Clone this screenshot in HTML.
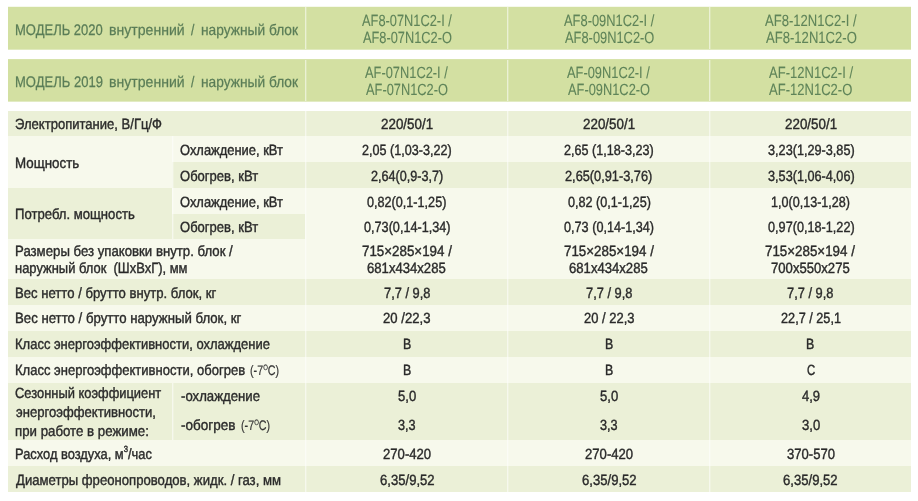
<!DOCTYPE html>
<html lang="ru"><head><meta charset="utf-8"><title>Технические характеристики</title>
<style>
html,body{margin:0;padding:0;background:#fff;}
body{width:918px;height:501px;position:relative;overflow:hidden;font-family:"Liberation Sans",sans-serif;}
.r{position:absolute;}
.t{position:absolute;white-space:nowrap;line-height:20px;transform-origin:0 0;-webkit-text-stroke:0.4px;}
#w{position:absolute;left:0;top:0;width:918px;height:501px;will-change:transform;}
.n{-webkit-text-stroke:0.1px;}
.h{-webkit-text-stroke:0.25px;}
.g{-webkit-text-stroke:0.2px;}
.s{font-size:56%;position:relative;top:-0.68em;}
.u{font-size:60%;position:relative;top:-0.75em;}
</style></head><body><div id="w">
<div class="r" style="left:8px;top:7px;width:903px;height:42px;background:#d3e0a2"></div>
<div class="r" style="left:8px;top:6px;width:903px;height:1px;background:#f6f9ec"></div>
<div class="r" style="left:8px;top:49px;width:903px;height:1px;background:#e0e9be"></div>
<div class="r" style="left:8px;top:60px;width:903px;height:41px;background:#d3e0a2"></div>
<div class="r" style="left:8px;top:59px;width:903px;height:1px;background:#d7e3ab"></div>
<div class="r" style="left:8px;top:101px;width:903px;height:1px;background:#e2ebc3"></div>
<div class="r" style="left:8px;top:111px;width:297px;height:25px;background:#ebf0d7"></div>
<div class="r" style="left:305px;top:111px;width:606px;height:25px;background:#ebf0d7"></div>
<div class="r" style="left:305px;top:136px;width:606px;height:26px;background:#f7f9ec"></div>
<div class="r" style="left:305px;top:162px;width:606px;height:26px;background:#ebf0d7"></div>
<div class="r" style="left:305px;top:188px;width:606px;height:26px;background:#f7f9ec"></div>
<div class="r" style="left:305px;top:214px;width:606px;height:25px;background:#f7f9ec"></div>
<div class="r" style="left:8px;top:239px;width:297px;height:40px;background:#f7f9ec"></div>
<div class="r" style="left:305px;top:239px;width:606px;height:40px;background:#f7f9ec"></div>
<div class="r" style="left:8px;top:279px;width:297px;height:26px;background:#ebf0d7"></div>
<div class="r" style="left:305px;top:279px;width:606px;height:26px;background:#ebf0d7"></div>
<div class="r" style="left:8px;top:305px;width:297px;height:26px;background:#f7f9ec"></div>
<div class="r" style="left:305px;top:305px;width:606px;height:26px;background:#f7f9ec"></div>
<div class="r" style="left:8px;top:331px;width:297px;height:26px;background:#ebf0d7"></div>
<div class="r" style="left:305px;top:331px;width:606px;height:26px;background:#ebf0d7"></div>
<div class="r" style="left:8px;top:357px;width:297px;height:26px;background:#f7f9ec"></div>
<div class="r" style="left:305px;top:357px;width:606px;height:26px;background:#f7f9ec"></div>
<div class="r" style="left:8px;top:383px;width:297px;height:57px;background:#ebf0d7"></div>
<div class="r" style="left:305px;top:383px;width:606px;height:57px;background:#ebf0d7"></div>
<div class="r" style="left:8px;top:440px;width:297px;height:26px;background:#f7f9ec"></div>
<div class="r" style="left:305px;top:440px;width:606px;height:26px;background:#f7f9ec"></div>
<div class="r" style="left:8px;top:466px;width:297px;height:26px;background:#ebf0d7"></div>
<div class="r" style="left:305px;top:466px;width:606px;height:26px;background:#ebf0d7"></div>
<div class="r" style="left:8px;top:136px;width:164px;height:52px;background:#f7f9ec"></div>
<div class="r" style="left:172px;top:136px;width:133px;height:26px;background:#f7f9ec"></div>
<div class="r" style="left:172px;top:162px;width:133px;height:26px;background:#ebf0d7"></div>
<div class="r" style="left:8px;top:188px;width:164px;height:51px;background:#ebf0d7"></div>
<div class="r" style="left:172px;top:188px;width:133px;height:26px;background:#f7f9ec"></div>
<div class="r" style="left:172px;top:214px;width:133px;height:25px;background:#ebf0d7"></div>
<div class="r" style="left:305px;top:7px;width:1px;height:42px;background:rgba(255,255,255,0.55)"></div>
<div class="r" style="left:306px;top:7px;width:1px;height:42px;background:rgba(255,255,255,0.2)"></div>
<div class="r" style="left:305px;top:60px;width:1px;height:41px;background:rgba(255,255,255,0.55)"></div>
<div class="r" style="left:306px;top:60px;width:1px;height:41px;background:rgba(255,255,255,0.2)"></div>
<div class="r" style="left:305px;top:111px;width:1px;height:381px;background:rgba(255,255,255,0.55)"></div>
<div class="r" style="left:306px;top:111px;width:1px;height:381px;background:rgba(255,255,255,0.2)"></div>
<div class="r" style="left:507px;top:7px;width:1px;height:42px;background:rgba(255,255,255,0.55)"></div>
<div class="r" style="left:508px;top:7px;width:1px;height:42px;background:rgba(255,255,255,0.2)"></div>
<div class="r" style="left:507px;top:60px;width:1px;height:41px;background:rgba(255,255,255,0.55)"></div>
<div class="r" style="left:508px;top:60px;width:1px;height:41px;background:rgba(255,255,255,0.2)"></div>
<div class="r" style="left:507px;top:111px;width:1px;height:381px;background:rgba(255,255,255,0.55)"></div>
<div class="r" style="left:508px;top:111px;width:1px;height:381px;background:rgba(255,255,255,0.2)"></div>
<div class="r" style="left:709px;top:7px;width:1px;height:42px;background:rgba(255,255,255,0.55)"></div>
<div class="r" style="left:710px;top:7px;width:1px;height:42px;background:rgba(255,255,255,0.2)"></div>
<div class="r" style="left:709px;top:60px;width:1px;height:41px;background:rgba(255,255,255,0.55)"></div>
<div class="r" style="left:710px;top:60px;width:1px;height:41px;background:rgba(255,255,255,0.2)"></div>
<div class="r" style="left:709px;top:111px;width:1px;height:381px;background:rgba(255,255,255,0.55)"></div>
<div class="r" style="left:710px;top:111px;width:1px;height:381px;background:rgba(255,255,255,0.2)"></div>
<div class="r" style="left:172px;top:136px;width:1px;height:103px;background:rgba(255,255,255,0.55)"></div>
<div class="r" style="left:173px;top:136px;width:1px;height:103px;background:rgba(255,255,255,0.2)"></div>
<div class="r" style="left:172px;top:383px;width:1px;height:57px;background:rgba(255,255,255,0.55)"></div>
<div class="r" style="left:173px;top:383px;width:1px;height:57px;background:rgba(255,255,255,0.2)"></div>
<span class="t h" style="left:14.93px;top:20px;font-size:15.3px;color:#5a7d57;transform:scaleX(0.8501) skewX(0.05deg)">МОДЕЛЬ 2020</span>
<span class="t h" style="left:109.02px;top:20px;font-size:15.3px;color:#5a7d57;transform:scaleX(0.9210) skewX(0.05deg)">внутренний</span>
<span class="t h" style="left:191.30px;top:20px;font-size:15.3px;color:#5a7d57;transform:scaleX(0.7972) skewX(0.05deg)">/</span>
<span class="t h" style="left:201.25px;top:20px;font-size:15.3px;color:#5a7d57;transform:scaleX(0.8983) skewX(0.05deg)">наружный блок</span>
<span class="t h" style="left:14.93px;top:72px;font-size:15.3px;color:#5a7d57;transform:scaleX(0.8512) skewX(0.05deg)">МОДЕЛЬ 2019</span>
<span class="t h" style="left:109.02px;top:72px;font-size:15.3px;color:#5a7d57;transform:scaleX(0.9210) skewX(0.05deg)">внутренний</span>
<span class="t h" style="left:191.30px;top:72px;font-size:15.3px;color:#5a7d57;transform:scaleX(0.7972) skewX(0.05deg)">/</span>
<span class="t h" style="left:201.25px;top:72px;font-size:15.3px;color:#5a7d57;transform:scaleX(0.8983) skewX(0.05deg)">наружный блок</span>
<span class="t n" style="left:361.97px;top:10px;font-size:16.2px;color:#5f8459;transform:scaleX(0.7923) skewX(0.05deg)">AF8-07N1C2-I /</span>
<span class="t n" style="left:362.72px;top:27px;font-size:16.2px;color:#5f8459;transform:scaleX(0.7908) skewX(0.05deg)">AF8-07N1C2-O</span>
<span class="t n" style="left:365.47px;top:62px;font-size:16.2px;color:#5f8459;transform:scaleX(0.7935) skewX(0.05deg)">AF-07N1C2-I /</span>
<span class="t n" style="left:366.22px;top:79px;font-size:16.2px;color:#5f8459;transform:scaleX(0.7919) skewX(0.05deg)">AF-07N1C2-O</span>
<span class="t n" style="left:563.77px;top:10px;font-size:16.2px;color:#5f8459;transform:scaleX(0.7958) skewX(0.05deg)">AF8-09N1C2-I /</span>
<span class="t n" style="left:564.52px;top:27px;font-size:16.2px;color:#5f8459;transform:scaleX(0.7944) skewX(0.05deg)">AF8-09N1C2-O</span>
<span class="t n" style="left:567.47px;top:62px;font-size:16.2px;color:#5f8459;transform:scaleX(0.7935) skewX(0.05deg)">AF-09N1C2-I /</span>
<span class="t n" style="left:568.17px;top:79px;font-size:16.2px;color:#5f8459;transform:scaleX(0.7929) skewX(0.05deg)">AF-09N1C2-O</span>
<span class="t n" style="left:764.92px;top:10px;font-size:16.2px;color:#5f8459;transform:scaleX(0.8073) skewX(0.05deg)">AF8-12N1C2-I /</span>
<span class="t n" style="left:765.57px;top:27px;font-size:16.2px;color:#5f8459;transform:scaleX(0.8078) skewX(0.05deg)">AF8-12N1C2-O</span>
<span class="t n" style="left:768.67px;top:62px;font-size:16.2px;color:#5f8459;transform:scaleX(0.8050) skewX(0.05deg)">AF-12N1C2-I /</span>
<span class="t n" style="left:769.32px;top:79px;font-size:16.2px;color:#5f8459;transform:scaleX(0.8056) skewX(0.05deg)">AF-12N1C2-O</span>
<span class="t" style="left:15.23px;top:114px;font-size:14.8px;color:#2a2a2a;transform:scaleX(0.8818) skewX(0.05deg)">Электропитание, В/Гц/Ф</span>
<span class="t" style="left:14.80px;top:153px;font-size:14.8px;color:#2a2a2a;transform:scaleX(0.9037) skewX(0.05deg)">Мощность</span>
<span class="t" style="left:180.39px;top:140px;font-size:14.8px;color:#2a2a2a;transform:scaleX(0.8730) skewX(0.05deg)">Охлаждение, кВт</span>
<span class="t" style="left:180.38px;top:166px;font-size:14.8px;color:#2a2a2a;transform:scaleX(0.8800) skewX(0.05deg)">Обогрев, кВт</span>
<span class="t" style="left:14.84px;top:204px;font-size:14.8px;color:#2a2a2a;transform:scaleX(0.8864) skewX(0.05deg)">Потребл. мощность</span>
<span class="t" style="left:180.39px;top:192px;font-size:14.8px;color:#2a2a2a;transform:scaleX(0.8730) skewX(0.05deg)">Охлаждение, кВт</span>
<span class="t" style="left:180.38px;top:217px;font-size:14.8px;color:#2a2a2a;transform:scaleX(0.8800) skewX(0.05deg)">Обогрев, кВт</span>
<span class="t" style="left:14.82px;top:241px;font-size:14.8px;color:#2a2a2a;transform:scaleX(0.8920) skewX(0.05deg)">Размеры без упаковки внутр. блок /</span>
<span class="t" style="left:15.00px;top:258px;font-size:14.8px;color:#2a2a2a;transform:scaleX(0.8748) skewX(0.05deg)">наружный блок&nbsp; (ШхВхГ), мм</span>
<span class="t" style="left:14.82px;top:283px;font-size:14.8px;color:#2a2a2a;transform:scaleX(0.8862) skewX(0.05deg)">Вес нетто / брутто внутр. блок, кг</span>
<span class="t" style="left:14.82px;top:308px;font-size:14.8px;color:#2a2a2a;transform:scaleX(0.8922) skewX(0.05deg)">Вес нетто / брутто наружный блок, кг</span>
<span class="t" style="left:14.83px;top:334px;font-size:14.8px;color:#2a2a2a;transform:scaleX(0.8779) skewX(0.05deg)">Класс энергоэффективности, охлаждение</span>
<span class="t" style="left:14.83px;top:360px;font-size:14.8px;color:#2a2a2a;transform:scaleX(0.8808) skewX(0.05deg)">Класс энергоэффективности, обогрев</span>
<span class="t g" style="left:250.43px;top:361px;font-size:13.8px;color:#353535;transform:scaleX(0.7775) skewX(0.05deg)">(-7<span class="s">O</span>C)</span>
<span class="t" style="left:15.24px;top:383px;font-size:14.8px;color:#2a2a2a;transform:scaleX(0.8719) skewX(0.05deg)">Сезонный коэффициент</span>
<span class="t" style="left:15.55px;top:402px;font-size:14.8px;color:#2a2a2a;transform:scaleX(0.8849) skewX(0.05deg)">энергоэффективности,</span>
<span class="t" style="left:14.98px;top:421px;font-size:14.8px;color:#2a2a2a;transform:scaleX(0.8966) skewX(0.05deg)">при работе в режиме:</span>
<span class="t" style="left:180.81px;top:386px;font-size:14.8px;color:#2a2a2a;transform:scaleX(0.8903) skewX(0.05deg)">-охлаждение</span>
<span class="t" style="left:180.80px;top:415px;font-size:14.8px;color:#2a2a2a;transform:scaleX(0.9127) skewX(0.05deg)">-обогрев</span>
<span class="t g" style="left:240.53px;top:416px;font-size:13.8px;color:#353535;transform:scaleX(0.7775) skewX(0.05deg)">(-7<span class="s">O</span>C)</span>
<span class="t" style="left:14.84px;top:444px;font-size:14.8px;color:#2a2a2a;transform:scaleX(0.8697) skewX(0.05deg)">Расход воздуха, м<span class="u">3</span>/час</span>
<span class="t" style="left:15.80px;top:470px;font-size:14.8px;color:#2a2a2a;transform:scaleX(0.8872) skewX(0.05deg)">Диаметры фреонопроводов, жидк. / газ, мм</span>
<span class="t" style="left:380.83px;top:114px;font-size:14.8px;color:#2a2a2a;transform:scaleX(0.9046) skewX(0.05deg)">220/50/1</span>
<span class="t" style="left:582.83px;top:114px;font-size:14.8px;color:#2a2a2a;transform:scaleX(0.9046) skewX(0.05deg)">220/50/1</span>
<span class="t" style="left:784.63px;top:114px;font-size:14.8px;color:#2a2a2a;transform:scaleX(0.9046) skewX(0.05deg)">220/50/1</span>
<span class="t" style="left:362.12px;top:140px;font-size:14.8px;color:#2a2a2a;transform:scaleX(0.8519) skewX(0.05deg)">2,05 (1,03-3,22)</span>
<span class="t" style="left:564.12px;top:140px;font-size:14.8px;color:#2a2a2a;transform:scaleX(0.8519) skewX(0.05deg)">2,65 (1,18-3,23)</span>
<span class="t" style="left:767.52px;top:140px;font-size:14.8px;color:#2a2a2a;transform:scaleX(0.8564) skewX(0.05deg)">3,23(1,29-3,85)</span>
<span class="t" style="left:370.81px;top:166px;font-size:14.8px;color:#2a2a2a;transform:scaleX(0.8533) skewX(0.05deg)">2,64(0,9-3,7)</span>
<span class="t" style="left:565.31px;top:166px;font-size:14.8px;color:#2a2a2a;transform:scaleX(0.8630) skewX(0.05deg)">2,65(0,91-3,76)</span>
<span class="t" style="left:767.52px;top:166px;font-size:14.8px;color:#2a2a2a;transform:scaleX(0.8564) skewX(0.05deg)">3,53(1,06-4,06)</span>
<span class="t" style="left:367.36px;top:192px;font-size:14.8px;color:#2a2a2a;transform:scaleX(0.8538) skewX(0.05deg)">0,82(0,1-1,25)</span>
<span class="t" style="left:567.61px;top:192px;font-size:14.8px;color:#2a2a2a;transform:scaleX(0.8537) skewX(0.05deg)">0,82 (0,1-1,25)</span>
<span class="t" style="left:771.09px;top:192px;font-size:14.8px;color:#2a2a2a;transform:scaleX(0.8502) skewX(0.05deg)">1,0(0,13-1,28)</span>
<span class="t" style="left:363.76px;top:217px;font-size:14.8px;color:#2a2a2a;transform:scaleX(0.8555) skewX(0.05deg)">0,73(0,14-1,34)</span>
<span class="t" style="left:564.01px;top:217px;font-size:14.8px;color:#2a2a2a;transform:scaleX(0.8554) skewX(0.05deg)">0,73 (0,14-1,34)</span>
<span class="t" style="left:767.50px;top:217px;font-size:14.8px;color:#2a2a2a;transform:scaleX(0.8565) skewX(0.05deg)">0,97(0,18-1,22)</span>
<span class="t" style="left:361.62px;top:241px;font-size:14.8px;color:#2a2a2a;transform:scaleX(0.9025) skewX(0.05deg)">715×285×194 /</span>
<span class="t" style="left:563.62px;top:241px;font-size:14.8px;color:#2a2a2a;transform:scaleX(0.9025) skewX(0.05deg)">715×285×194 /</span>
<span class="t" style="left:765.42px;top:241px;font-size:14.8px;color:#2a2a2a;transform:scaleX(0.9025) skewX(0.05deg)">715×285×194 /</span>
<span class="t" style="left:367.48px;top:258px;font-size:14.8px;color:#2a2a2a;transform:scaleX(0.8856) skewX(0.05deg)">681x434x285</span>
<span class="t" style="left:569.48px;top:258px;font-size:14.8px;color:#2a2a2a;transform:scaleX(0.8856) skewX(0.05deg)">681x434x285</span>
<span class="t" style="left:771.28px;top:258px;font-size:14.8px;color:#2a2a2a;transform:scaleX(0.8856) skewX(0.05deg)">700x550x275</span>
<span class="t" style="left:383.64px;top:283px;font-size:14.8px;color:#2a2a2a;transform:scaleX(0.8676) skewX(0.05deg)">7,7 / 9,8</span>
<span class="t" style="left:585.64px;top:283px;font-size:14.8px;color:#2a2a2a;transform:scaleX(0.8676) skewX(0.05deg)">7,7 / 9,8</span>
<span class="t" style="left:787.44px;top:283px;font-size:14.8px;color:#2a2a2a;transform:scaleX(0.8676) skewX(0.05deg)">7,7 / 9,8</span>
<span class="t" style="left:383.11px;top:308px;font-size:14.8px;color:#2a2a2a;transform:scaleX(0.8877) skewX(0.05deg)">20 /22,3</span>
<span class="t" style="left:583.62px;top:308px;font-size:14.8px;color:#2a2a2a;transform:scaleX(0.8761) skewX(0.05deg)">20 / 22,3</span>
<span class="t" style="left:780.69px;top:308px;font-size:14.8px;color:#2a2a2a;transform:scaleX(0.8579) skewX(0.05deg)">22,7 / 25,1</span>
<span class="t" style="left:402.59px;top:334px;font-size:14.8px;color:#2a2a2a;transform:scaleX(0.8360) skewX(0.05deg)">B</span>
<span class="t" style="left:604.58px;top:334px;font-size:14.8px;color:#2a2a2a;transform:scaleX(0.8360) skewX(0.05deg)">B</span>
<span class="t" style="left:806.38px;top:334px;font-size:14.8px;color:#2a2a2a;transform:scaleX(0.8360) skewX(0.05deg)">B</span>
<span class="t" style="left:402.59px;top:360px;font-size:14.8px;color:#2a2a2a;transform:scaleX(0.8360) skewX(0.05deg)">B</span>
<span class="t" style="left:604.58px;top:360px;font-size:14.8px;color:#2a2a2a;transform:scaleX(0.8360) skewX(0.05deg)">B</span>
<span class="t" style="left:806.52px;top:360px;font-size:14.8px;color:#2a2a2a;transform:scaleX(0.7671) skewX(0.05deg)">C</span>
<span class="t" style="left:397.78px;top:386px;font-size:14.8px;color:#2a2a2a;transform:scaleX(0.8856) skewX(0.05deg)">5,0</span>
<span class="t" style="left:599.78px;top:386px;font-size:14.8px;color:#2a2a2a;transform:scaleX(0.8856) skewX(0.05deg)">5,0</span>
<span class="t" style="left:801.80px;top:386px;font-size:14.8px;color:#2a2a2a;transform:scaleX(0.8797) skewX(0.05deg)">4,9</span>
<span class="t" style="left:398.12px;top:415px;font-size:14.8px;color:#2a2a2a;transform:scaleX(0.8566) skewX(0.05deg)">3,3</span>
<span class="t" style="left:600.12px;top:415px;font-size:14.8px;color:#2a2a2a;transform:scaleX(0.8566) skewX(0.05deg)">3,3</span>
<span class="t" style="left:801.60px;top:415px;font-size:14.8px;color:#2a2a2a;transform:scaleX(0.8843) skewX(0.05deg)">3,0</span>
<span class="t" style="left:382.74px;top:444px;font-size:14.8px;color:#2a2a2a;transform:scaleX(0.8867) skewX(0.05deg)">270-420</span>
<span class="t" style="left:584.74px;top:444px;font-size:14.8px;color:#2a2a2a;transform:scaleX(0.8867) skewX(0.05deg)">270-420</span>
<span class="t" style="left:786.70px;top:444px;font-size:14.8px;color:#2a2a2a;transform:scaleX(0.8837) skewX(0.05deg)">370-570</span>
<span class="t" style="left:379.58px;top:470px;font-size:14.8px;color:#2a2a2a;transform:scaleX(0.8848) skewX(0.05deg)">6,35/9,52</span>
<span class="t" style="left:581.58px;top:470px;font-size:14.8px;color:#2a2a2a;transform:scaleX(0.8848) skewX(0.05deg)">6,35/9,52</span>
<span class="t" style="left:783.38px;top:470px;font-size:14.8px;color:#2a2a2a;transform:scaleX(0.8848) skewX(0.05deg)">6,35/9,52</span>
</div></body></html>
